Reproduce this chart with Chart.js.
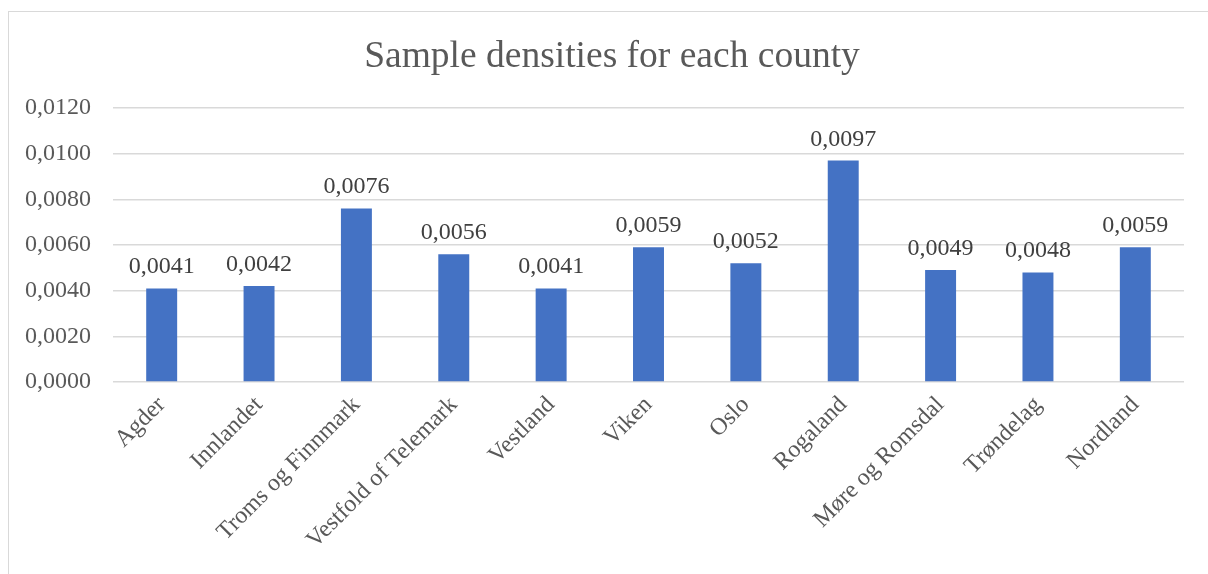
<!DOCTYPE html>
<html>
<head>
<meta charset="utf-8">
<script src="https://cdn.jsdelivr.net/npm/chart.js@4.4.1/dist/chart.umd.min.js"></script>
<style>
  html, body { margin: 0; padding: 0; background: #ffffff; overflow: hidden; }
  body { width: 1208px; height: 574px; position: relative; }
  #frame {
    position: absolute; left: 8px; top: 11px; width: 1240px; height: 620px;
    border-top: 1.5px solid #d9d9d9; border-left: 1.5px solid #d9d9d9;
    box-sizing: border-box;
  }
  #chart { position: absolute; left: 9px; top: 12px; }
</style>
</head>
<body>
<div id="frame"></div>
<canvas id="chart" width="1206" height="562"></canvas>
<script>
// Sample density per county
const counties = [
  'Agder', 'Innlandet', 'Troms og Finnmark', 'Vestfold of Telemark', 'Vestland',
  'Viken', 'Oslo', 'Rogaland', 'Møre og Romsdal', 'Trøndelag', 'Nordland'
];
const densities = [0.0041, 0.0042, 0.0076, 0.0056, 0.0041, 0.0059, 0.0052, 0.0097, 0.0049, 0.0048, 0.0059];
const yTicks = [0, 0.002, 0.004, 0.006, 0.008, 0.010, 0.012];
const chartTitle = 'Sample densities for each county';

const FONT = '"Liberation Serif", "Times New Roman", serif';
const fmt = v => v.toFixed(4).replace('.', ',');

// Title centred on the whole chart frame
const frameTitle = {
  id: 'frameTitle',
  afterDraw(chart) {
    const ctx = chart.ctx;
    ctx.save();
    ctx.font = '37.5px ' + FONT;
    ctx.fillStyle = '#595959';
    ctx.textAlign = 'center';
    ctx.textBaseline = 'alphabetic';
    ctx.fillText(chartTitle, chart.width / 2, 54.5);
    ctx.restore();
  }
};

// Writes each bar's value just above it
const valueLabels = {
  id: 'valueLabels',
  afterDatasetsDraw(chart) {
    const ctx = chart.ctx;
    const meta = chart.getDatasetMeta(0);
    ctx.save();
    ctx.font = '24px ' + FONT;
    ctx.fillStyle = '#404040';
    ctx.textAlign = 'center';
    ctx.textBaseline = 'alphabetic';
    meta.data.forEach((bar, i) => {
      ctx.fillText(fmt(densities[i]), bar.x, bar.y - 15);
    });
    ctx.restore();
  }
};

new Chart(document.getElementById('chart'), {
  type: 'bar',
  data: {
    labels: counties,
    datasets: [{
      data: densities,
      backgroundColor: '#4472c4',
      borderWidth: 0,
      categoryPercentage: 1,
      barPercentage: 0.318
    }]
  },
  options: {
    responsive: false,
    animation: false,
    layout: { padding: { left: 0, right: 31, top: 96, bottom: 0 } },
    plugins: {
      legend: { display: false },
      tooltip: { enabled: false },
      title: { display: false }
    },
    scales: {
      x: {
        grid: { display: false, drawTicks: false },
        border: { display: false },
        ticks: {
          autoSkip: false,
          minRotation: 45,
          maxRotation: 45,
          padding: 9,
          color: '#595959',
          font: { family: FONT, size: 24 }
        },
        afterFit(scale) { scale.height = 192; }
      },
      y: {
        min: 0,
        max: 0.012,
        afterBuildTicks(scale) { scale.ticks = yTicks.map(v => ({ value: v })); },
        grid: { color: '#d9d9d9', lineWidth: 1.5, drawTicks: false },
        border: { display: false },
        ticks: {
          padding: 22,
          color: '#595959',
          font: { family: FONT, size: 24 },
          callback: v => fmt(v)
        },
        afterFit(scale) { scale.width = 104; }
      }
    }
  },
  plugins: [valueLabels, frameTitle]
});
</script>
</body>
</html>
